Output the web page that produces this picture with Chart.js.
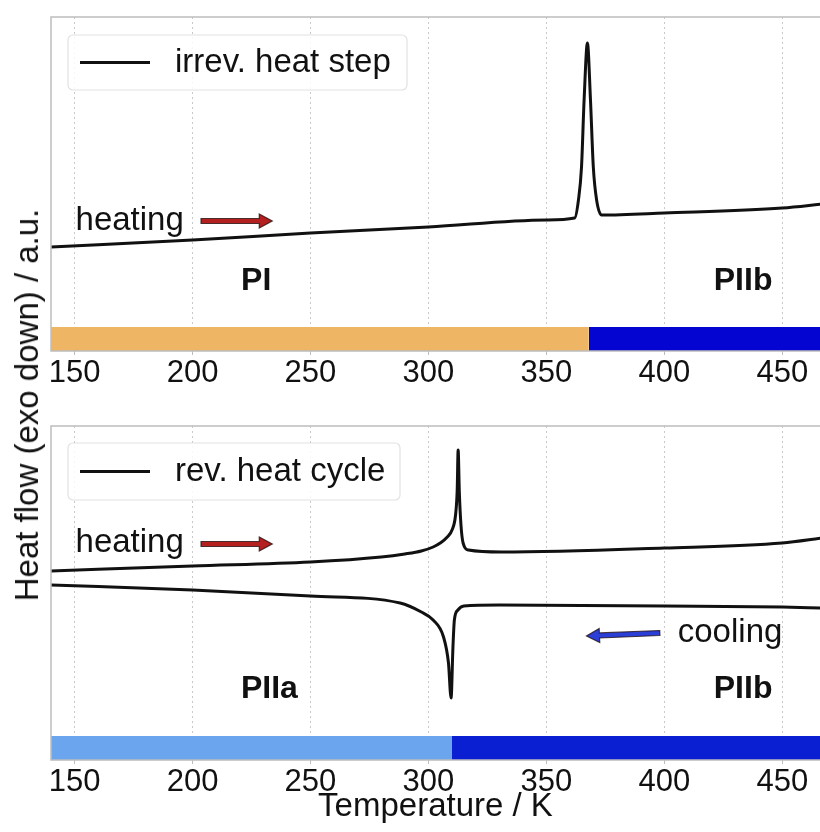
<!DOCTYPE html>
<html>
<head>
<meta charset="utf-8">
<script src="https://cdn.jsdelivr.net/npm/chart.js@4.4.0/dist/chart.umd.min.js"></script>
<style>
  html, body { margin: 0; padding: 0; background: #fff; }
  #wrap { position: relative; width: 820px; height: 832px; overflow: hidden; }
  #stepChart { position: absolute; left: 0; top: 0; }
  #cycleChart { position: absolute; left: 0; top: 400px; }
  #ylab {
    position: absolute; left: 27px; top: 405px;
    transform: translate(-50%, -50%) rotate(-90deg);
    font: 33px "Liberation Sans", Arial, sans-serif; color: #111; white-space: nowrap;
  }
</style>
</head>
<body>
<div id="wrap">
  <canvas id="stepChart" width="820" height="400"></canvas>
  <canvas id="cycleChart" width="820" height="432"></canvas>
  <div id="ylab">Heat flow (exo down) / a.u.</div>
</div>
<script>
// DSC traces: temperature in K, heat flow in arbitrary units (exo down)
const tempTicks = [150, 200, 250, 300, 350, 400, 450];

// irreversible step, first heating
const stepT = [140, 200, 250, 300, 350, 362, 363.6, 364.9, 366.0, 367.4, 368.7, 369.9, 371.3, 373.4, 400, 450, 467];
const stepQ = [104, 111, 118, 124, 131, 133, 151, 184, 251, 308, 251, 184, 151, 136, 138, 143, 147];

// reversible cycle, heating branch
const cycHeatT = [140, 200, 250, 280, 290, 297, 302, 305, 308, 310, 311.5, 312.2, 312.6, 313.1, 313.8, 314.7, 317, 331, 400, 450, 467];
const cycHeatQ = [189, 194, 198, 203, 206, 209, 213, 217, 223, 230, 245, 270, 310, 268, 235, 217, 210, 208, 212, 217, 222];

// reversible cycle, cooling branch
const cycCoolT = [140, 200, 250, 288, 297, 302, 306.4, 308.5, 309.6, 310.4, 311, 312.5, 315, 330, 400, 450, 467];
const cycCoolQ = [175, 170, 164, 157, 148, 140, 123, 97, 62, 113, 140, 150, 154, 155, 154, 153, 152];

// phase ranges for the bars under each plot
const stepPhases = ['PI', 'PIIb'];
const stepBounds = [140, 368, 470];
const cyclePhases = ['PIIa', 'PIIb'];
const cycleBounds = [140, 310, 470];

const FONT = '"Liberation Sans", Arial, sans-serif';
Chart.defaults.font.family = FONT;
Chart.defaults.color = '#111';

const BAND = 24;     // bar thickness in y units
const YMAX = 334;

const pts = (xs, ys) => xs.map((x, i) => ({x: x, y: ys[i]}));

function curve(label, xs, ys) {
  return {
    label: label, data: pts(xs, ys),
    borderColor: '#111', borderWidth: 3, pointRadius: 0,
    cubicInterpolationMode: 'monotone', fill: false, order: 1
  };
}

function bands(bounds, colors) {
  return colors.map((c, i) => ({
    label: '', data: [{x: bounds[i], y: BAND}, {x: bounds[i + 1], y: BAND}],
    backgroundColor: c, borderWidth: 0, pointRadius: 0, fill: 'origin', order: 2
  }));
}

function drawArrow(ctx, x0, y0, x1, y1, fill) {
  const ang = Math.atan2(y1 - y0, x1 - x0);
  const len = Math.hypot(x1 - x0, y1 - y0);
  const hw = 2.5, hl = 13, hh = 7;
  ctx.save();
  ctx.translate(x0, y0);
  ctx.rotate(ang);
  ctx.beginPath();
  ctx.moveTo(0, -hw);
  ctx.lineTo(len - hl, -hw);
  ctx.lineTo(len - hl, -hh);
  ctx.lineTo(len, 0);
  ctx.lineTo(len - hl, hh);
  ctx.lineTo(len - hl, hw);
  ctx.lineTo(0, hw);
  ctx.closePath();
  ctx.fillStyle = fill;
  ctx.fill();
  ctx.lineWidth = 1.2;
  ctx.strokeStyle = 'rgba(30,10,10,0.75)';
  ctx.stroke();
  ctx.restore();
}

// text labels and arrows placed in data coordinates
const notesPlugin = {
  id: 'notes',
  afterDatasetsDraw(chart, args, opts) {
    const ctx = chart.ctx, x = chart.scales.x, y = chart.scales.y;
    ctx.save();
    (opts.texts || []).forEach(t => {
      ctx.font = (t.bold ? 'bold 32px ' : '33px ') + FONT;
      ctx.fillStyle = '#111';
      ctx.textAlign = t.align || 'center';
      ctx.textBaseline = 'alphabetic';
      ctx.fillText(t.text, x.getPixelForValue(t.x), y.getPixelForValue(t.y));
    });
    (opts.arrows || []).forEach(a => {
      drawArrow(ctx, x.getPixelForValue(a.x0), y.getPixelForValue(a.y0),
                x.getPixelForValue(a.x1), y.getPixelForValue(a.y1), a.color);
    });
    ctx.restore();
  }
};

// legend box in the upper left corner + plot frame
const keyPlugin = {
  id: 'key',
  afterDraw(chart, args, o) {
    const ctx = chart.ctx, a = chart.chartArea;
    ctx.save();
    ctx.strokeStyle = '#bdbdbd';
    ctx.lineWidth = 1.5;
    ctx.strokeRect(a.left, a.top, a.right - a.left + 4, a.bottom - a.top);

    const x = a.left + o.dx, y = a.top + o.dy;
    ctx.beginPath();
    ctx.roundRect(x, y, o.w, o.h, 5);
    ctx.fillStyle = 'rgba(255,255,255,0.85)';
    ctx.fill();
    ctx.strokeStyle = '#e2e2e2';
    ctx.lineWidth = 1.2;
    ctx.stroke();
    const cy = y + o.h / 2;
    ctx.beginPath();
    ctx.moveTo(x + 12, cy);
    ctx.lineTo(x + 82, cy);
    ctx.strokeStyle = '#111';
    ctx.lineWidth = 3;
    ctx.stroke();
    ctx.font = '33px ' + FONT;
    ctx.fillStyle = '#111';
    ctx.textBaseline = 'middle';
    ctx.fillText(chart.data.datasets[0].label, x + 107, cy);
    ctx.restore();
  }
};

function makeChart(id, datasets, padTop, axisH, title, key, notes) {
  return new Chart(document.getElementById(id), {
    type: 'line',
    data: {datasets: datasets},
    plugins: [notesPlugin, keyPlugin],
    options: {
      responsive: false,
      animation: false,
      layout: {padding: {left: 51, top: padTop, right: 0, bottom: 0}},
      scales: {
        x: {
          type: 'linear', min: 140, max: 466,
          afterBuildTicks: s => { s.ticks = tempTicks.map(v => ({value: v})); },
          afterFit: s => { s.height = axisH; },
          grid: {color: '#c9c9c9', lineWidth: 1, drawTicks: true, tickLength: 4,
                 tickColor: '#bdbdbd', borderDash: [2, 3]},
          border: {display: false, dash: [2, 3]},
          ticks: {font: {size: 31}, color: '#111', padding: 0, maxRotation: 0},
          title: title
        },
        y: {display: false, min: 0, max: YMAX}
      },
      plugins: {
        legend: {display: false},
        tooltip: {enabled: false},
        key: key,
        notes: notes
      }
    }
  });
}

const stepChart = makeChart('stepChart',
  [curve('irrev. heat step', stepT, stepQ)].concat(bands(stepBounds, ['#EDB564', '#0505D2'])),
  17, 49, {display: false},
  {dx: 17, dy: 18, w: 339, h: 55},
  {
    texts: [
      {text: 'heating', x: 150.4, y: 121, align: 'left'},
      {text: stepPhases[0], x: 227, y: 61, bold: true},
      {text: stepPhases[1], x: 433.4, y: 61, bold: true}
    ],
    arrows: [{x0: 203.6, y0: 130, x1: 233.8, y1: 130, color: '#B42020'}]
  });

const cycleChart = makeChart('cycleChart',
  [curve('rev. heat cycle', cycHeatT, cycHeatQ), curve('', cycCoolT, cycCoolQ)]
    .concat(bands(cycleBounds, ['#6AA5EE', '#0A1ED2'])),
  26, 72,
  {display: true, text: 'Temperature / K', font: {size: 33}, color: '#111', padding: {top: 0, bottom: 5}},
  {dx: 17, dy: 17, w: 332, h: 57},
  {
    texts: [
      {text: 'heating', x: 150.4, y: 208, align: 'left'},
      {text: 'cooling', x: 405.7, y: 118, align: 'left'},
      {text: cyclePhases[0], x: 232.6, y: 62, bold: true},
      {text: cyclePhases[1], x: 433.4, y: 62, bold: true}
    ],
    arrows: [
      {x0: 203.6, y0: 216, x1: 233.8, y1: 216, color: '#B42020'},
      {x0: 398.1, y0: 127, x1: 367.0, y1: 124, color: '#2B3FD6'}
    ]
  });
</script>
</body>
</html>
